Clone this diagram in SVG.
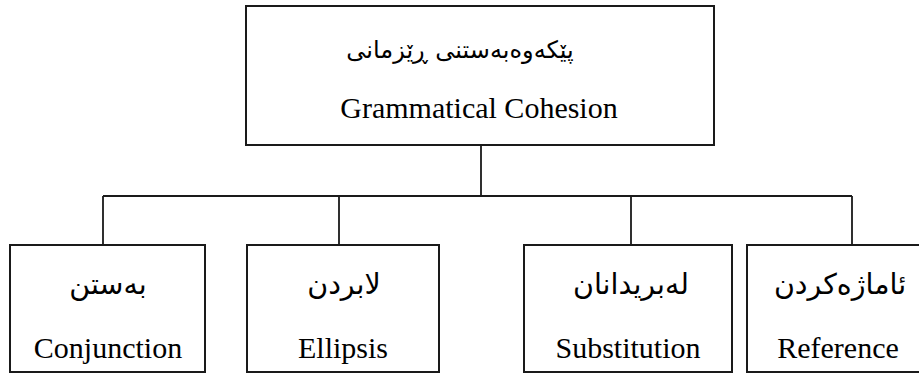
<svg xmlns="http://www.w3.org/2000/svg" width="919" height="375" viewBox="0 0 919 375">
<style>
.box{fill:#fff;stroke:#1a1a1a;stroke-width:2}
.ln{fill:none;stroke:#1a1a1a;stroke-width:1.8}
.en{font-family:'Liberation Serif','Times New Roman','DejaVu Serif',serif;font-size:30px;fill:#000;text-anchor:middle}
.ku{font-family:'DejaVu Sans',sans-serif;font-size:28.5px;fill:#000;text-anchor:middle}
.kt{font-size:24px}
</style>
<rect width="919" height="375" fill="#fff"/>
<g id="connectors">
<path class="ln" d="M481 145 V196 M103 196 H852 M103 196 V245 M339 196 V245 M631 196 V245 M852 196 V245"/>
</g>
<g id="root">
<rect class="box" x="246" y="6" width="468" height="139"/>
<text class="ku kt" x="460" y="58" direction="rtl">پێکەوەبەستنی ڕێزمانی</text>
<text class="en" x="479" y="118">Grammatical Cohesion</text>
</g>
<g id="conjunction">
<rect class="box" x="10" y="245" width="195" height="127"/>
<text class="ku" x="108" y="294" direction="rtl">بەستن</text>
<text class="en" x="108" y="358">Conjunction</text>
</g>
<g id="ellipsis">
<rect class="box" x="247" y="245" width="192" height="127"/>
<text class="ku" x="344" y="294" direction="rtl">لابردن</text>
<text class="en" x="343" y="358">Ellipsis</text>
</g>
<g id="substitution">
<rect class="box" x="524" y="245" width="208" height="127"/>
<text class="ku" x="631" y="294" direction="rtl">لەبریدانان</text>
<text class="en" x="628" y="358">Substitution</text>
</g>
<g id="reference">
<rect class="box" x="747" y="245" width="180" height="127"/>
<text class="ku" x="840" y="294" direction="rtl">ئاماژەکردن</text>
<text class="en" x="838" y="358">Reference</text>
</g>
</svg>
